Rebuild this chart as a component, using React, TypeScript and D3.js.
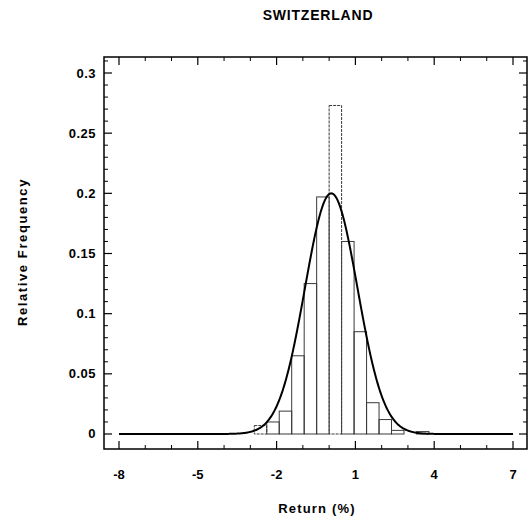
import React from "react";
import * as d3 from "d3";

const binStarts = [-2.85, -2.375, -1.9, -1.425, -0.95, -0.475, 0, 0.475, 0.95, 1.425, 1.9, 2.375, 3.325];
const binFreq = [0.007, 0.010, 0.019, 0.065, 0.125, 0.197, 0.273, 0.160, 0.085, 0.026, 0.012, 0.003, 0.002];
const BIN_WIDTH = 0.475;

const xTicks = [-8, -5, -2, 1, 4, 7];
const yTicks = [0, 0.05, 0.1, 0.15, 0.2, 0.25, 0.3];

// fitted normal curve parameters
const FIT_MEAN = 0.08;
const FIT_SD = 1.0;
const FIT_PEAK = 0.2;

const W = 529;
const H = 523;
const L = 104, R = 527, T = 57, B = 449;

export default function App() {
  const x = d3.scaleLinear().domain([-8.571, 7.533]).range([L, R]);
  const y = d3.scaleLinear().domain([-0.01247, 0.3133]).range([B, T]);

  const xMinor = d3.range(-8, 7.01, 1).filter((v) => !xTicks.includes(v));
  const yMinor = d3.range(0, 0.3101, 0.01).map((v) => +v.toFixed(2)).filter((v) => !yTicks.some((t) => Math.abs(t - v) < 1e-6));

  const curvePts = d3.range(-8, 7.0001, 0.02).map((v) => [v, FIT_PEAK * Math.exp(-0.5 * ((v - FIT_MEAN) / FIT_SD) ** 2)] as [number, number]);
  const line = d3.line<[number, number]>().x((d) => x(d[0])).y((d) => y(d[1]));

  const font = "'Liberation Sans', Arial, sans-serif";

  return (
    <svg width={W} height={H} style={{ position: "absolute", left: 0, top: 0, background: "#fff" }}>
      <rect x={0} y={0} width={W} height={H} fill="#fff" />
      {/* histogram */}
      {binStarts.map((s, i) => (
        <rect
          key={i}
          x={x(s)}
          y={y(binFreq[i])}
          width={x(s + BIN_WIDTH) - x(s)}
          height={y(0) - y(binFreq[i])}
          fill="none"
          stroke="#3a3a3a"
          strokeWidth={1}
          strokeDasharray={i === 6 || i === 0 ? "3,1" : undefined}
        />
      ))}
      {/* fitted curve */}
      <path d={line(curvePts) || ""} fill="none" stroke="#000" strokeWidth={2} />
      {/* frame */}
      <rect x={L} y={T} width={R - L} height={B - T} fill="none" stroke="#000" strokeWidth={1.5} />
      {/* x ticks */}
      {xTicks.map((t) => (
        <g key={"xt" + t}>
          <line x1={x(t)} x2={x(t)} y1={B} y2={B - 8} stroke="#000" strokeWidth={1.2} />
          <line x1={x(t)} x2={x(t)} y1={T} y2={T + 8} stroke="#000" strokeWidth={1.2} />
          <text x={x(t)} y={479} textAnchor="middle" fontFamily={font} fontWeight="bold" fontSize={13}>
            {t}
          </text>
        </g>
      ))}
      {xMinor.map((t) => (
        <g key={"xm" + t}>
          <line x1={x(t)} x2={x(t)} y1={B} y2={B - 4} stroke="#000" strokeWidth={1} />
          <line x1={x(t)} x2={x(t)} y1={T} y2={T + 4} stroke="#000" strokeWidth={1} />
        </g>
      ))}
      {/* y ticks */}
      {yTicks.map((t) => (
        <g key={"yt" + t}>
          <line x1={L} x2={L + 8} y1={y(t)} y2={y(t)} stroke="#000" strokeWidth={1.2} />
          <line x1={R} x2={R - 8} y1={y(t)} y2={y(t)} stroke="#000" strokeWidth={1.2} />
          <text x={96} y={y(t) + 4.5} textAnchor="end" fontFamily={font} fontWeight="bold" fontSize={13} letterSpacing={0.5}>
            {String(t)}
          </text>
        </g>
      ))}
      {yMinor.map((t) => (
        <g key={"ym" + t}>
          <line x1={L} x2={L + 4} y1={y(t)} y2={y(t)} stroke="#000" strokeWidth={1} />
          <line x1={R} x2={R - 4} y1={y(t)} y2={y(t)} stroke="#000" strokeWidth={1} />
        </g>
      ))}
      {/* titles */}
      <text x={318} y={20} textAnchor="middle" fontFamily={font} fontWeight="bold" fontSize={14} letterSpacing={0.8}>
        SWITZERLAND
      </text>
      <text x={317} y={513} textAnchor="middle" fontFamily={font} fontWeight="bold" fontSize={13} letterSpacing={1.2}>
        Return (%)
      </text>
      <text
        transform={`translate(27, 252) rotate(-90)`}
        textAnchor="middle"
        fontFamily={font}
        fontWeight="bold"
        fontSize={13}
        letterSpacing={1.6}
      >
        Relative Frequency
      </text>
    </svg>
  );
}
